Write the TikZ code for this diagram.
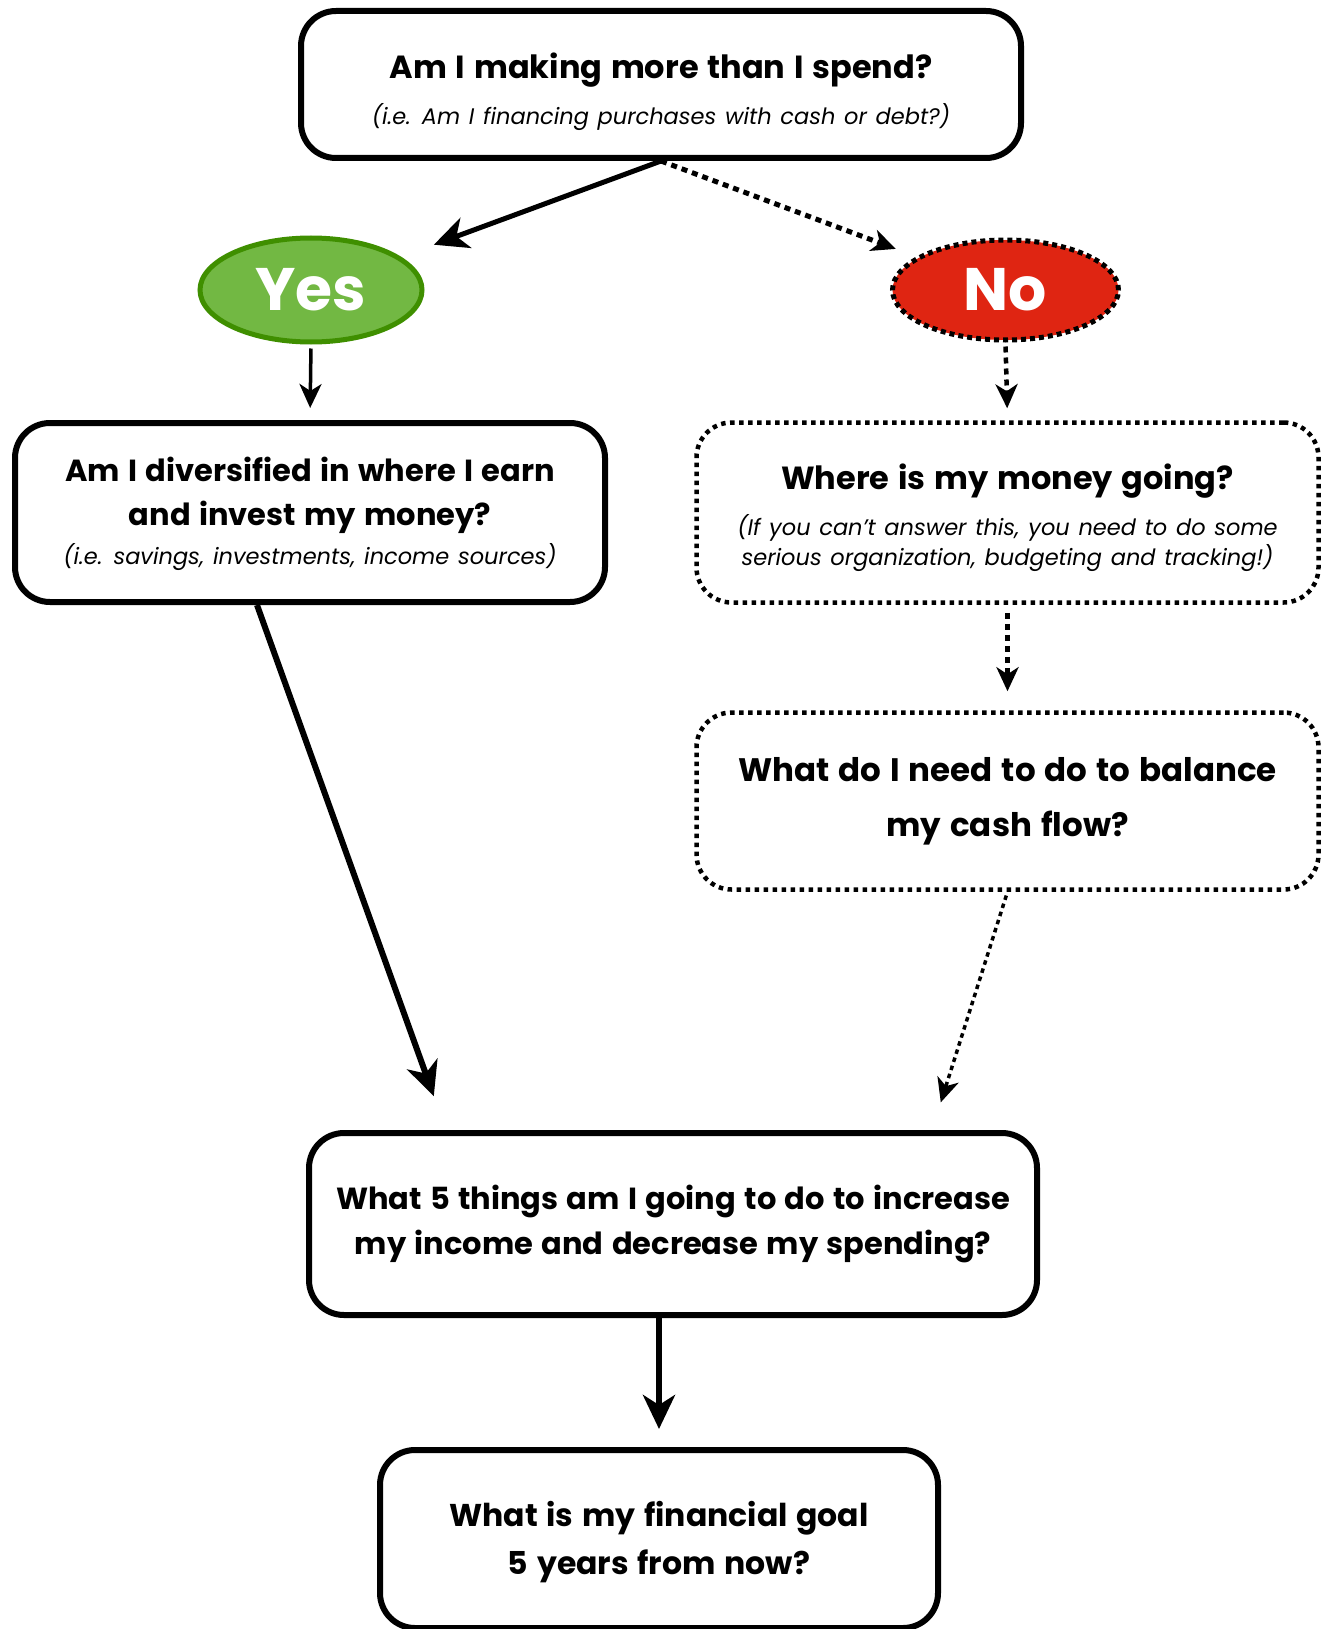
\documentclass[tikz,border=0pt]{standalone}
\usepackage{fontspec}
\setmainfont{Poppins}[WordSpace=1.3]
\usetikzlibrary{arrows.meta,shapes.geometric,calc}
\definecolor{yesfill}{HTML}{72B843}
\definecolor{yesdraw}{HTML}{3F8F00}
\definecolor{nofill}{HTML}{DF2512}
\newcommand\subtxt{\fontsize{22.5}{28.5}\selectfont\mdseries\itshape}
\begin{document}
\begin{tikzpicture}[x=1pt,y=-1pt,
  box/.style={draw, line width=6pt, rounded corners=35pt, align=center, inner sep=0pt, fill=white},
  dbox/.style={draw, line width=4.5pt, rounded corners=35pt, align=center, inner sep=0pt,
     dash pattern=on 4.5pt off 4.5pt},
  ttl/.style 2 args={font=\fontsize{#1}{#2}\selectfont\bfseries},
  oval/.style={ellipse, inner sep=0pt, text=white, font=\fontsize{60}{60}\selectfont\bfseries},
  arr/.style={line width=#1, -{Stealth[length=34pt,width=32pt,inset=10pt]}},
  arrs/.style={line width=#1, -{Stealth[length=24pt,width=22pt,inset=7pt]}},
  darr/.style={line width=#1, dash pattern=on 6pt off 5pt, -{Stealth[length=24pt,width=22pt,inset=7pt]}},
]
\path[fill=white] (0,0) rectangle (1323,1629);
\useasboundingbox (0,0) rectangle (1323,1629);

\node[box, ttl={32}{46}, minimum width=720pt, minimum height=147pt] (top) at (661,84.5)
  {\rule{0pt}{40pt}Am I making more than I spend?\\ {\subtxt (i.e. Am I financing purchases with cash or debt?)}};

\node[oval, draw=yesdraw, fill=yesfill, line width=5pt, minimum width=222pt, minimum height=104pt] (yes) at (311,290) {Yes};
\node[oval, draw=black, fill=nofill, line width=5pt, dash pattern=on 5pt off 4pt, minimum width=226pt, minimum height=100pt] (no) at (1005.5,290) {No};

\node[box, ttl={30.5}{44}, minimum width=590pt, minimum height=179pt] (left) at (310,512.5)
  {\rule{0pt}{27pt}Am I diversified in where I earn\\ and invest my money?\\[-5pt] {\subtxt (i.e. savings, investments, income sources)}};

\node[dbox, ttl={32}{46}, minimum width=622pt, minimum height=180pt] (right1) at (1007.5,512.5)
  {\rule{0pt}{38pt}Where is my money going?\\ {\subtxt\begin{tabular}[t]{@{}c@{}}(If you can’t answer this, you need to do some\\ serious organization, budgeting and tracking!)\end{tabular}}};

\node[dbox, ttl={32.5}{55}, minimum width=622pt, minimum height=177pt] (right2) at (1007.5,801)
  {What do I need to do to balance\\ my cash flow?};

\node[box, ttl={30.5}{45}, minimum width=728pt, minimum height=182pt] (bot1) at (673,1224)
  {What 5 things am I going to do to increase\\ my income and decrease my spending?};

\node[box, ttl={31.5}{48}, minimum width=558pt, minimum height=178pt] (bot2) at (659,1539)
  {\rule{0pt}{32pt}What is my financial goal\\ 5 years from now?};

\draw[arr=5pt, shorten >=35pt] (top.south) -- (yes);
\draw[darr=5pt, shorten >=22pt] (top.south) -- (no);
\draw[arrs=3.5pt, shorten <=4pt, shorten >=12pt] (yes.south) -- (left.north);
\draw[darr=4.5pt, shorten <=4pt, shorten >=12pt] (no.south) -- (right1.north);
\draw[darr=4.5pt, shorten <=8pt, shorten >=19pt] (right1.south) -- (right2.north);

\coordinate (lsrc) at ($(left.south)+(-53,0)$);
\coordinate (ldst) at ($(bot1.north west)+(140,0)$);
\draw[arr=6pt, shorten >=36pt] (lsrc) -- (ldst);

\coordinate (rdst) at ($(bot1.north east)+(-108,0)$);
\draw[darr=3.5pt, dash pattern=on 4.5pt off 4pt, shorten <=4pt, shorten >=29pt] (right2.south) -- (rdst);

\draw[arr=6pt, shorten >=18pt] (bot1.south -| bot2.north) -- (bot2.north);
\end{tikzpicture}
\end{document}
